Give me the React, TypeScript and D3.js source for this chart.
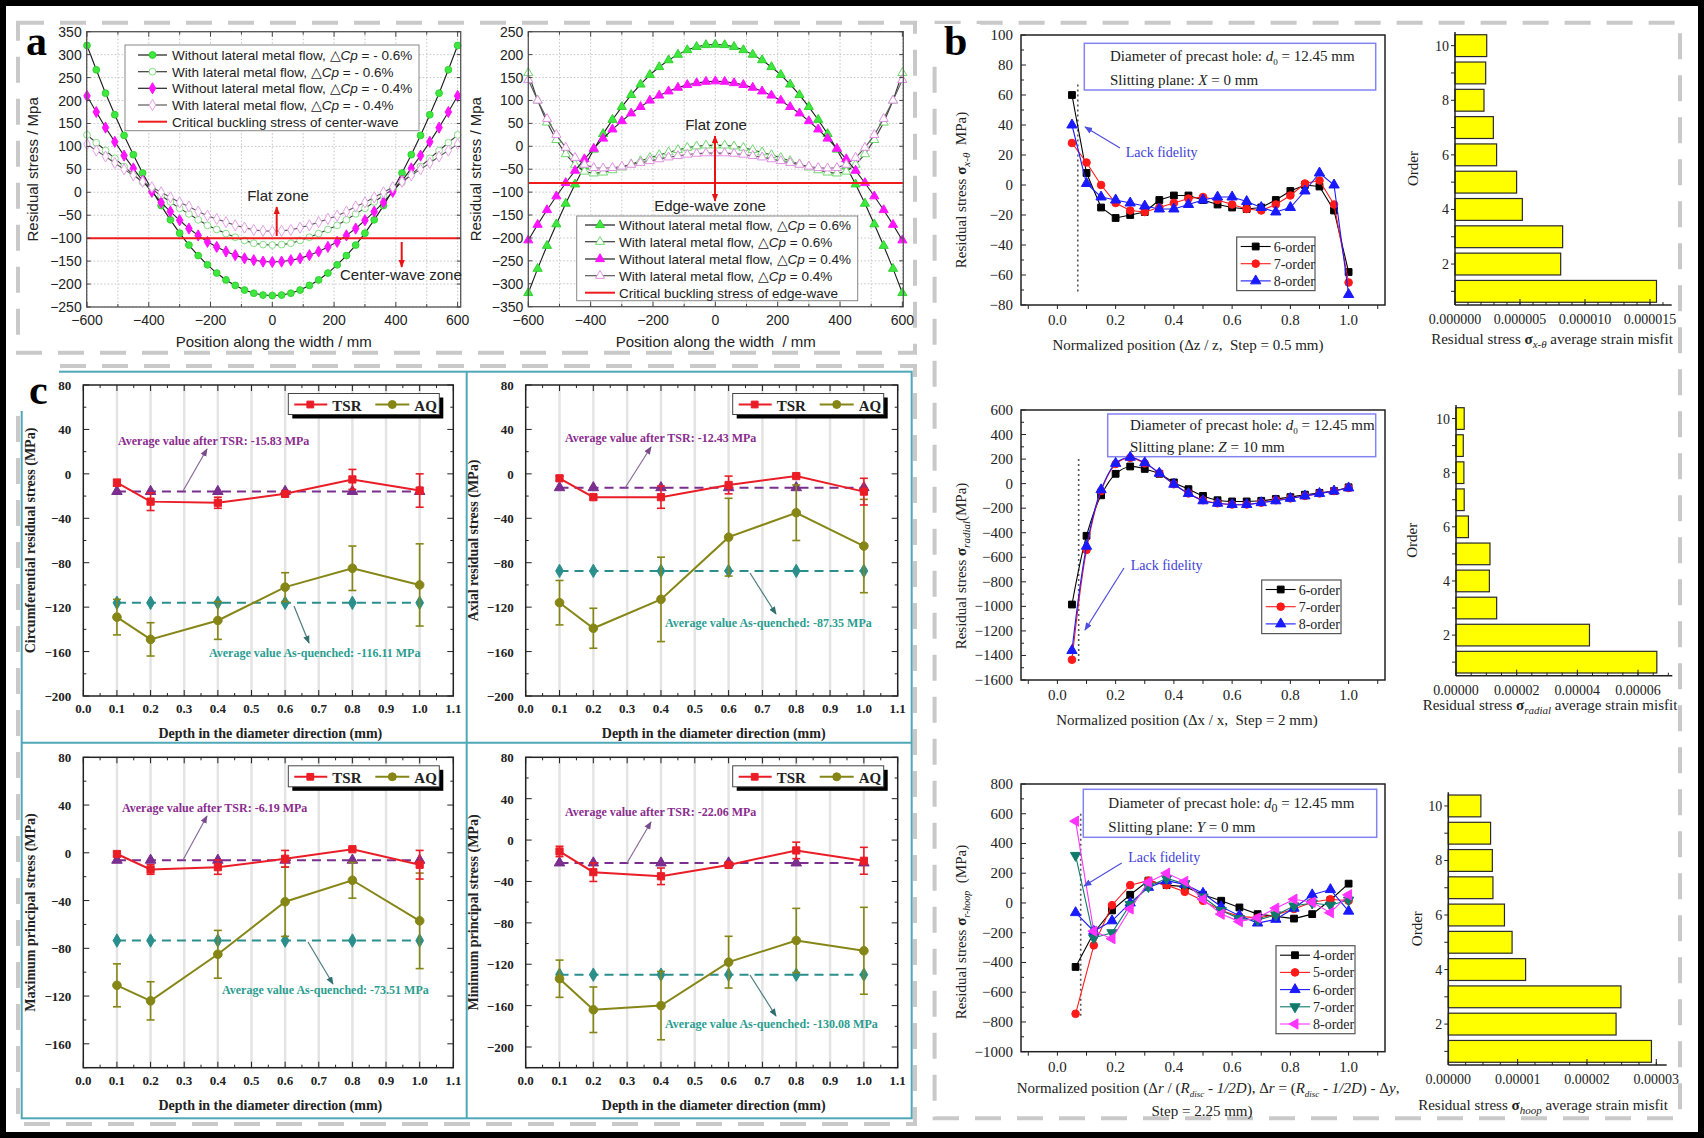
import React from 'react';
import * as d3 from 'd3';

const W = 1704;
const H = 1138;
const SANS = '"Liberation Sans", Arial, Helvetica, sans-serif';
const SERIF = '"Liberation Serif", "Times New Roman", Times, serif';

// ---------- (a) residual stress across the strip width, one point every 30 mm ----------
const widthPos = d3.range(-600, 601, 30);

const centerNoFlow06 = [320,267,216,169,124,82,42,5,-29,-60,-89,-115,-138,-158,-176,-191,-203,-213,-220,-224,-225,-224,-220,-213,-203,-191,-176,-158,-138,-115,-89,-60,-29,5,42,82,124,169,216,267,320];
const centerFlow06 = [125,108,91,74,56,39,22,7,-7,-21,-35,-47,-60,-72,-81,-90,-98,-105,-111,-114,-115,-114,-111,-105,-98,-90,-81,-72,-60,-47,-35,-21,-7,7,22,39,56,74,91,108,125];
const centerNoFlow04 = [210,175,141,110,80,52,25,1,-22,-42,-61,-79,-94,-108,-119,-129,-137,-144,-148,-151,-152,-151,-148,-144,-137,-129,-119,-108,-94,-79,-61,-42,-22,1,25,52,80,110,141,175,210];
const centerFlow04 = [105,91,78,64,50,37,23,11,0,-11,-22,-31,-42,-51,-58,-65,-72,-77,-82,-84,-85,-84,-82,-77,-72,-65,-58,-51,-42,-31,-22,-11,0,11,23,37,50,64,78,91,105];
const edgeNoFlow06 = [-320,-267,-217,-170,-125,-83,-44,-7,27,58,86,112,135,156,173,188,200,210,217,221,222,221,217,210,200,188,173,156,135,112,86,58,27,-7,-44,-83,-125,-170,-217,-267,-320];
const edgeFlow06 = [160,100,52,14,-17,-40,-55,-59,-57,-52,-46,-39,-32,-25,-19,-13,-8,-3,0,2,2,2,0,-3,-8,-13,-19,-25,-32,-39,-46,-52,-57,-59,-55,-40,-17,14,52,100,160];
const edgeNoFlow04 = [-205,-171,-139,-109,-80,-53,-28,-5,17,37,55,72,86,100,111,120,128,134,138,141,142,141,138,134,128,120,111,100,86,72,55,37,17,-5,-28,-53,-80,-109,-139,-171,-205];
const edgeFlow04 = [145,100,60,25,-3,-25,-40,-47,-48,-47,-44,-40,-36,-32,-28,-24,-21,-18,-16,-15,-15,-15,-16,-18,-21,-24,-28,-32,-36,-40,-44,-47,-48,-47,-40,-25,-3,25,60,100,145];
const centerWaveLimit = -100;
const edgeWaveLimit = -80;

// ---------- (b) slitting results and strain misfit per order ----------
const slitPos = [0.05,0.1,0.15,0.2,0.25,0.3,0.35,0.4,0.45,0.5,0.55,0.6,0.65,0.7,0.75,0.8,0.85,0.9,0.95,1.0];
const xTheta6 = [60,8,-15,-22,-20,-18,-10,-7,-7,-10,-13,-15,-16,-15,-10,-4,0,-1,-17,-58];
const xTheta7 = [28,15,0,-12,-17,-18,-15,-12,-9,-8,-10,-13,-16,-17,-13,-7,1,3,-13,-65];
const xTheta8 = [40,1,-8,-10,-12,-14,-16,-16,-13,-10,-8,-8,-11,-15,-18,-15,-4,8,0,-73];
const radial6 = [-985,-425,-95,80,140,120,80,10,-45,-100,-135,-145,-145,-140,-125,-110,-90,-75,-60,-30];
const radial7 = [-1435,-540,-60,160,210,165,85,-5,-80,-135,-160,-170,-170,-155,-135,-120,-100,-80,-60,-35];
const radial8 = [-1360,-510,-50,165,215,170,85,-5,-80,-140,-160,-170,-170,-155,-140,-120,-100,-80,-60,-35];
const hoopPos = [0.0625,0.125,0.1875,0.25,0.3125,0.375,0.4375,0.5,0.5625,0.625,0.6875,0.75,0.8125,0.875,0.9375,1.0];
const hoop4 = [-430,-200,-50,55,150,120,110,55,15,-30,-75,-90,-105,-75,20,130];
const hoop5 = [-745,-285,-15,120,150,120,75,15,-50,-90,-100,-80,-40,5,25,15];
const hoop6 = [-65,-190,-120,0,105,150,125,65,-25,-85,-135,-110,-35,55,90,-55];
const hoop7 = [320,-235,-200,-10,110,165,130,40,-50,-105,-115,-80,-20,0,-15,20];
const hoop8 = [550,-190,-240,-40,140,200,145,25,-75,-125,-100,-35,25,5,-65,55];

const orders = [1,2,3,4,5,6,7,8,9,10];
const misfitXTheta = [0.0000155,0.00000813,0.00000828,0.00000518,0.00000474,0.0000032,0.00000295,0.00000223,0.00000236,0.00000244];
const misfitRadial = [0.0000662,0.000044,0.0000134,0.000011,0.0000112,0.0000041,0.0000027,0.0000026,0.0000024,0.0000027];
const misfitHoop = [0.0000293,0.0000242,0.0000249,0.00001115,0.0000092,0.0000081,0.00000644,0.00000635,0.0000061,0.0000047];

// ---------- (c) stresses vs depth, TSR vs as-quenched ----------
const depth = [0.1,0.2,0.4,0.6,0.8,1.0];
const circTSR = [-8,-25,-26,-18,-5,-15];
const circTSRErr = [3,8,5,2,9,15];
const circAQ = [-129,-149,-132,-102,-85,-100];
const circAQErr = [16,15,17,13,20,37];
const axialTSR = [-4,-21,-21,-10,-2,-16];
const axialTSRErr = [2,2,10,8,1,12];
const axialAQ = [-116,-139,-113,-57,-35,-65];
const axialAQErr = [20,18,38,35,25,42];
const maxTSR = [-1,-14,-12,-5,3,-10];
const maxTSRErr = [2,4,6,7,1,12];
const maxAQ = [-111,-124,-85,-41,-23,-57];
const maxAQErr = [18,16,20,29,15,40];
const minTSR = [-11,-31,-35,-24,-10,-20];
const minTSRErr = [5,9,8,2,8,13];
const minAQ = [-134,-164,-160,-118,-97,-107];
const minAQErr = [18,22,33,25,31,42];

const RED = '#ea1d27';
const OLIVE = '#868616';
const PURPLE = '#7a2e8e';
const TEAL = '#2a8f8c';

const symType: any = { circle: d3.symbolCircle, square: d3.symbolSquare, diamond: d3.symbolDiamond, triangle: d3.symbolTriangle, down: d3.symbolTriangle, left: d3.symbolTriangle };
const symRot: any = { circle: 0, square: 0, diamond: 0, triangle: 0, down: 180, left: -90 };

function Sym({ kind, x, y, size, fill, stroke, sw = 1 }: any) {
    const d = d3.symbol().type(symType[kind]).size(size)() as string;
    return <path d={d} transform={`translate(${x},${y}) rotate(${symRot[kind]})`} fill={fill} stroke={stroke} strokeWidth={sw} />;
}

const dcp = (v: string) => (
    <>
        {'\u25B3'}
        <tspan fontStyle="italic">Cp</tspan>
        {` = ${v}`}
    </>
);

// one of the two width-profile charts in (a)
function WidthPanel(p: any) {
    const x = d3.scaleLinear().domain(p.xDomain).range([p.x0, p.x1]);
    const y = d3.scaleLinear().domain(p.yDomain).range([p.y1, p.y0]);
    const path = d3.line<number>().x((_, i) => x(widthPos[i])).y((v) => y(v));
    const yTicks = d3.range(p.yDomain[0], p.yDomain[1] + 1, 50);
    const xGrid = d3.range(-600, 601, 100);
    const xLabels = d3.range(-600, 601, 200);
    const fmt = d3.format('d');
    const lb = p.legend;
    return (
        <g fontFamily={SANS}>
            <rect x={p.x0} y={p.y0} width={p.x1 - p.x0} height={p.y1 - p.y0} fill="#fff" />
            {xGrid.map((v) => <line key={'gx' + v} x1={x(v)} x2={x(v)} y1={p.y0} y2={p.y1} stroke="#c4c4c4" strokeDasharray="1.5,2" />)}
            {yTicks.map((v) => <line key={'gy' + v} x1={p.x0} x2={p.x1} y1={y(v)} y2={y(v)} stroke="#c4c4c4" strokeDasharray="1.5,2" />)}
            {p.series.map((s: any, k: number) => (
                <g key={'s' + k}>
                    <path d={path(s.values) as string} fill="none" stroke={s.line} strokeWidth={1.1} />
                    {s.values.map((v: number, i: number) => (
                        <Sym key={i} kind={s.kind} x={x(widthPos[i])} y={y(v)} size={36} fill={s.fill} stroke={s.stroke} />
                    ))}
                </g>
            ))}
            <line x1={p.x0} x2={p.x1} y1={y(p.limit)} y2={y(p.limit)} stroke="#f01c1c" strokeWidth={2} />
            <rect x={p.x0} y={p.y0} width={p.x1 - p.x0} height={p.y1 - p.y0} fill="none" stroke="#555" strokeWidth={1.3} />
            {xGrid.map((v) => (
                <g key={'tx' + v} stroke="#444">
                    <line x1={x(v)} x2={x(v)} y1={p.y1} y2={p.y1 - (v % 200 === 0 ? 5 : 3)} />
                    <line x1={x(v)} x2={x(v)} y1={p.y0} y2={p.y0 + (v % 200 === 0 ? 5 : 3)} />
                </g>
            ))}
            {yTicks.map((v) => (
                <g key={'ty' + v} stroke="#444">
                    <line x1={p.x0} x2={p.x0 + 4} y1={y(v)} y2={y(v)} />
                    <line x1={p.x1} x2={p.x1 - 4} y1={y(v)} y2={y(v)} />
                </g>
            ))}
            {yTicks.map((v) => (
                <text key={'ly' + v} x={p.x0 - 5} y={y(v) + 5} fontSize={14} textAnchor="end" fill="#222">{fmt(v)}</text>
            ))}
            {xLabels.map((v) => (
                <text key={'lx' + v} x={x(v)} y={p.y1 + 18} fontSize={14} textAnchor="middle" fill="#222">{fmt(v)}</text>
            ))}
            <text transform={`translate(${p.yTitleX},${(p.y0 + p.y1) / 2}) rotate(-90)`} fontSize={15} textAnchor="middle" fill="#222">Residual stress / Mpa</text>
            <text x={(p.x0 + p.x1) / 2} y={347} fontSize={15} textAnchor="middle" fill="#222">{p.xTitle}</text>
            <rect x={lb.x0} y={lb.y0} width={lb.x1 - lb.x0} height={lb.y1 - lb.y0} fill="#fff" stroke="#888" strokeWidth={1} />
            {p.labels.map((lab: any, k: number) => {
                const ly = lb.rows[k];
                const s = p.series[k];
                return (
                    <g key={'lg' + k}>
                        {s ? (
                            <>
                                <line x1={lb.lx0} x2={lb.lx1} y1={ly} y2={ly} stroke={s.line} strokeWidth={1.2} />
                                <Sym kind={s.kind} x={(lb.lx0 + lb.lx1) / 2} y={ly} size={36} fill={s.fill} stroke={s.stroke} />
                            </>
                        ) : (
                            <line x1={lb.lx0} x2={lb.lx1} y1={ly} y2={ly} stroke="#f01c1c" strokeWidth={2} />
                        )}
                        <text x={lb.tx} y={ly + 5} fontSize={13.5} fill="#222">{lab}</text>
                    </g>
                );
            })}
            {p.children}
        </g>
    );
}

// line chart of one slitting measurement in (b)
const slitX = d3.scaleLinear().domain([-0.125, 1.125]).range([1021, 1385]);

function SlitPanel(p: any) {
    const x0 = 1021, x1 = 1385;
    const y = d3.scaleLinear().domain(p.yDomain).range([p.y1, p.y0]);
    const line = d3.line<number>().x((_, i) => slitX(p.xs[i])).y((v) => y(v));
    if (p.smooth) line.curve(d3.curveCatmullRom.alpha(0.5));
    const yMajor = d3.range(p.yDomain[0], p.yDomain[1] + 1, p.yStep);
    const yMinor = d3.range(p.yDomain[0], p.yDomain[1] + 1, p.yStep / 2);
    const xMinor = d3.range(-1, 12).map((i) => i / 10);
    const xMajor = [0, 0.2, 0.4, 0.6, 0.8, 1.0];
    const fmt = d3.format('d');
    const lg = p.legend;
    return (
        <g fontFamily={SERIF} fill="#222">
            <rect x={p.note.x0} y={p.note.y0} width={p.note.x1 - p.note.x0} height={p.note.y1 - p.note.y0} fill="#fff" stroke="#8383f2" strokeWidth={1.5} />
            {p.noteLines.map((t: any, i: number) => (
                <text key={'n' + i} x={p.note.tx} y={p.note.ty[i]} fontSize={15}>{t}</text>
            ))}
            <line x1={slitX(p.dotted.x)} x2={slitX(p.dotted.x)} y1={y(p.dotted.top)} y2={y(p.dotted.bottom)} stroke="#555" strokeWidth={1.6} strokeDasharray="2,3" />
            {p.series.map((s: any, k: number) => (
                <g key={'s' + k}>
                    <path d={line(s.values) as string} fill="none" stroke={s.color} strokeWidth={1.1} />
                    {s.values.map((v: number, i: number) => (
                        <Sym key={i} kind={s.kind} x={slitX(p.xs[i])} y={y(v)} size={46} fill={s.color} stroke={s.color} />
                    ))}
                </g>
            ))}
            <rect x={x0} y={p.y0} width={x1 - x0} height={p.y1 - p.y0} fill="none" stroke="#222" strokeWidth={1.5} />
            {yMinor.map((v) => (
                <line key={'ym' + v} x1={x0} x2={x0 + (v % p.yStep === 0 ? 5 : 3)} y1={y(v)} y2={y(v)} stroke="#222" />
            ))}
            {xMinor.map((v) => (
                <line key={'xm' + v} x1={slitX(v)} x2={slitX(v)} y1={p.y1} y2={p.y1 + 4} stroke="#222" />
            ))}
            {yMajor.map((v) => (
                <text key={'yl' + v} x={x0 - 8} y={y(v) + 5} fontSize={15} textAnchor="end">{fmt(v)}</text>
            ))}
            {xMajor.map((v) => (
                <text key={'xl' + v} x={slitX(v)} y={p.y1 + 20} fontSize={15} textAnchor="middle">{v.toFixed(1)}</text>
            ))}
            <line x1={p.lack.ax} y1={p.lack.ay} x2={p.lack.bx} y2={p.lack.by} stroke="#4d4de0" strokeWidth={1.2} markerEnd="url(#ah-blue)" />
            <text x={p.lack.tx} y={p.lack.ty} fontSize={14} fill="#4040d8">Lack fidelity</text>
            <rect x={lg.x} y={lg.y} width={lg.w} height={17.2 * p.series.length + 2} fill="#fff" stroke="#555" strokeWidth={1.2} />
            {p.series.map((s: any, k: number) => {
                const ly = lg.y + 9.5 + k * 17.2;
                return (
                    <g key={'lg' + k}>
                        <line x1={lg.x + 4} x2={lg.x + 34} y1={ly} y2={ly} stroke={s.color} strokeWidth={1.1} />
                        <Sym kind={s.kind} x={lg.x + 19} y={ly} size={46} fill={s.color} stroke={s.color} />
                        <text x={lg.x + 37} y={ly + 5} fontSize={14}>{s.label}</text>
                    </g>
                );
            })}
            <text transform={`translate(966,${p.yLabelY}) rotate(-90)`} fontSize={15} textAnchor="middle">{p.yLabel}</text>
            {p.xLabel}
        </g>
    );
}

// horizontal yellow bars of strain misfit per order in (b)
function MisfitBars(p: any) {
    const x = d3.scaleLinear().domain([0, p.max]).range([p.left, p.right]);
    const y = d3.scaleBand<number>().domain([...orders].reverse()).range([p.top, p.bottom]).paddingInner(0.2).paddingOuter(0.1);
    const fmt = d3.format(p.fmt);
    const minor = d3.range(0, Math.floor(p.max / p.minor + 1e-6) + 1).map((i) => i * p.minor);
    return (
        <g fontFamily={SERIF} fill="#222">
            {orders.map((o, i) => (
                <rect key={'b' + o} x={p.left} y={y(o)} width={x(p.values[i]) - p.left} height={y.bandwidth()} fill="#ffff00" stroke="#2a2a2a" strokeWidth={1.2} />
            ))}
            <line x1={p.left} x2={p.left} y1={p.top} y2={p.bottom} stroke="#222" strokeWidth={1.5} />
            <line x1={p.left} x2={p.right} y1={p.bottom} y2={p.bottom} stroke="#222" strokeWidth={1.5} />
            {minor.map((v, i) => (
                <line key={'xm' + i} x1={x(v)} x2={x(v)} y1={p.bottom} y2={p.bottom - 3} stroke="#222" />
            ))}
            {p.ticks.map((v: number) => (
                <g key={'xt' + v}>
                    <line x1={x(v)} x2={x(v)} y1={p.bottom} y2={p.bottom - 6} stroke="#222" />
                    <text x={x(v)} y={p.bottom + 19} fontSize={14} textAnchor="middle">{fmt(v)}</text>
                </g>
            ))}
            {orders.map((o) => (
                <line key={'yt' + o} x1={p.left} x2={p.left - 4} y1={(y(o) as number) + y.bandwidth() / 2} y2={(y(o) as number) + y.bandwidth() / 2} stroke="#222" />
            ))}
            {orders.filter((o) => o % 2 === 0).map((o) => (
                <text key={'yl' + o} x={p.left - 6} y={(y(o) as number) + y.bandwidth() / 2 + 5} fontSize={14} textAnchor="end">{o}</text>
            ))}
            <text transform={`translate(${p.orderX},${(p.top + p.bottom) / 2}) rotate(-90)`} fontSize={15} textAnchor="middle">Order</text>
            <text x={p.labelX} y={p.labelY} fontSize={15} textAnchor="middle">
                Residual stress <tspan fontWeight="bold">{'\u03C3'}</tspan>
                <tspan fontStyle="italic" fontSize={11} dy={4}>{p.sub}</tspan>
                <tspan dy={-4}> average strain misfit</tspan>
            </text>
        </g>
    );
}

// one of the four depth-profile charts in (c)
function DepthPanel(p: any) {
    const x = d3.scaleLinear().domain([0, 1.1]).range([p.x0, p.x1]);
    const y = d3.scaleLinear().domain(p.yDomain).range([p.y1, p.y0]);
    const line = d3.line<number>().x((_, i) => x(depth[i])).y((v) => y(v));
    const xTicks = d3.range(0, 12).map((i) => i / 10);
    const xMinor = d3.range(0, 23).map((i) => i / 20);
    const yMajor = d3.range(Math.ceil(p.yDomain[0] / 40) * 40, p.yDomain[1] + 1, 40);
    const yMinor = d3.range(Math.ceil(p.yDomain[0] / 20) * 20, p.yDomain[1] + 1, 20);
    const fmt = d3.format('d');
    const bx = p.x1 - 165;
    const by = p.y0 + 8.5;
    const errBar = (xv: number, v: number, e: number, color: string, key: string) => (
        <g key={key} stroke={color} strokeWidth={1.6}>
            <line x1={x(xv)} x2={x(xv)} y1={y(v - e)} y2={y(v + e)} />
            <line x1={x(xv) - 4} x2={x(xv) + 4} y1={y(v - e)} y2={y(v - e)} />
            <line x1={x(xv) - 4} x2={x(xv) + 4} y1={y(v + e)} y2={y(v + e)} />
        </g>
    );
    return (
        <g fontFamily={SERIF} fontWeight="bold" fill="#222">
            <rect x={p.x0} y={p.y0} width={p.x1 - p.x0} height={p.y1 - p.y0} fill="#fff" />
            {xTicks.slice(1, 11).map((v) => (
                <line key={'g' + v} x1={x(v)} x2={x(v)} y1={p.y0} y2={p.y1} stroke="#e4e4e4" strokeWidth={2.5} />
            ))}
            <line x1={x(0.1)} x2={x(1.0)} y1={y(p.tsrAvg)} y2={y(p.tsrAvg)} stroke={PURPLE} strokeWidth={2} strokeDasharray="9,6" />
            <line x1={x(0.1)} x2={x(1.0)} y1={y(p.aqAvg)} y2={y(p.aqAvg)} stroke={TEAL} strokeWidth={2} strokeDasharray="9,6" />
            {depth.map((d) => <Sym key={'pa' + d} kind="triangle" x={x(d)} y={y(p.tsrAvg)} size={48} fill={PURPLE} stroke={PURPLE} />)}
            {depth.map((d) => <Sym key={'ta' + d} kind="diamond" x={x(d)} y={y(p.aqAvg)} size={52} fill={TEAL} stroke={TEAL} />)}
            {depth.map((d, i) => errBar(d, p.aq[i], p.aqErr[i], OLIVE, 'ea' + i))}
            {depth.map((d, i) => errBar(d, p.tsr[i], p.tsrErr[i], RED, 'et' + i))}
            <path d={line(p.aq) as string} fill="none" stroke={OLIVE} strokeWidth={2} />
            <path d={line(p.tsr) as string} fill="none" stroke={RED} strokeWidth={2} />
            {depth.map((d, i) => <Sym key={'ma' + i} kind="circle" x={x(d)} y={y(p.aq[i])} size={58} fill={OLIVE} stroke={OLIVE} />)}
            {depth.map((d, i) => <Sym key={'mt' + i} kind="square" x={x(d)} y={y(p.tsr[i])} size={52} fill={RED} stroke={RED} />)}
            <rect x={p.x0} y={p.y0} width={p.x1 - p.x0} height={p.y1 - p.y0} fill="none" stroke="#222" strokeWidth={1.5} />
            {xMinor.map((v, i) => (
                <g key={'xt' + i} stroke="#222">
                    <line x1={x(v)} x2={x(v)} y1={p.y1} y2={p.y1 - (i % 2 === 0 ? 6 : 3)} />
                    <line x1={x(v)} x2={x(v)} y1={p.y0} y2={p.y0 + (i % 2 === 0 ? 6 : 3)} />
                </g>
            ))}
            {yMinor.map((v) => (
                <g key={'yt' + v} stroke="#222">
                    <line x1={p.x0} x2={p.x0 + (v % 40 === 0 ? 6 : 3)} y1={y(v)} y2={y(v)} />
                    <line x1={p.x1} x2={p.x1 - (v % 40 === 0 ? 6 : 3)} y1={y(v)} y2={y(v)} />
                </g>
            ))}
            {yMajor.map((v) => (
                <text key={'yl' + v} x={p.x0 - 12} y={y(v) + 5} fontSize={13} textAnchor="end">{fmt(v)}</text>
            ))}
            {xTicks.map((v) => (
                <text key={'xl' + v} x={x(v)} y={p.y1 + 17} fontSize={13} textAnchor="middle">{v.toFixed(1)}</text>
            ))}
            <text transform={`translate(${p.x0 - 48},${(p.y0 + p.y1) / 2}) rotate(-90)`} fontSize={14} textAnchor="middle">{p.yLabel}</text>
            <text x={(p.x0 + p.x1) / 2 + 2} y={p.y1 + 42} fontSize={14} textAnchor="middle">Depth in the diameter direction (mm)</text>
            <rect x={bx + 4} y={by + 4} width={151} height={21} fill="#000" />
            <rect x={bx} y={by} width={151} height={21} fill="#fff" stroke="#444" strokeWidth={1} />
            <line x1={bx + 6} x2={bx + 39} y1={by + 11} y2={by + 11} stroke={RED} strokeWidth={2} />
            <Sym kind="square" x={bx + 22} y={by + 11} size={46} fill={RED} stroke={RED} />
            <text x={bx + 44} y={by + 17} fontSize={15}>TSR</text>
            <line x1={bx + 87} x2={bx + 121} y1={by + 11} y2={by + 11} stroke={OLIVE} strokeWidth={2} />
            <Sym kind="circle" x={bx + 104} y={by + 11} size={50} fill={OLIVE} stroke={OLIVE} />
            <text x={bx + 126} y={by + 17} fontSize={15}>AQ</text>
            <line x1={p.tsrArrow[0]} y1={p.tsrArrow[1]} x2={p.tsrArrow[2]} y2={p.tsrArrow[3]} stroke="#8a6a98" strokeWidth={1.2} markerEnd="url(#ah-purple)" />
            <line x1={p.aqArrow[0]} y1={p.aqArrow[1]} x2={p.aqArrow[2]} y2={p.aqArrow[3]} stroke="#4c7c80" strokeWidth={1.2} markerEnd="url(#ah-teal)" />
            <text x={p.tsrText[0]} y={p.tsrText[1]} fontSize={12} fill="#8a2c8e">{`Average value after TSR: ${p.tsrAvg} MPa`}</text>
            <text x={p.aqText[0]} y={p.aqText[1]} fontSize={12} fill="#2a9d90">{`Average value As-quenched: ${p.aqAvg} MPa`}</text>
        </g>
    );
}

const centerSeries = [
    { values: centerNoFlow06, kind: 'circle', fill: '#3fe83f', stroke: '#2fd12f', line: '#1a1a1a' },
    { values: centerFlow06, kind: 'circle', fill: '#fff', stroke: '#82df82', line: '#3a3a3a' },
    { values: centerNoFlow04, kind: 'diamond', fill: '#ff14ff', stroke: '#ff14ff', line: '#222' },
    { values: centerFlow04, kind: 'diamond', fill: '#fff', stroke: '#e7a0e7', line: '#5a5a5a' },
];
const edgeSeries = [
    { values: edgeNoFlow06, kind: 'triangle', fill: '#3fe83f', stroke: '#2fd12f', line: '#1a1a1a' },
    { values: edgeFlow06, kind: 'triangle', fill: '#fff', stroke: '#6fd86f', line: '#3a3a3a' },
    { values: edgeNoFlow04, kind: 'triangle', fill: '#ff14ff', stroke: '#ff14ff', line: '#222' },
    { values: edgeFlow04, kind: 'triangle', fill: '#fff', stroke: '#e28fe2', line: '#5a5a5a' },
];
const centerLabels = [
    <>Without lateral metal flow, {dcp('- 0.6%')}</>,
    <>With lateral metal flow, {dcp('- 0.6%')}</>,
    <>Without lateral metal flow, {dcp('- 0.4%')}</>,
    <>With lateral metal flow, {dcp('- 0.4%')}</>,
    <>Critical buckling stress of center-wave</>,
];
const edgeLabels = [
    <>Without lateral metal flow, {dcp('0.6%')}</>,
    <>With lateral metal flow, {dcp('0.6%')}</>,
    <>Without lateral metal flow, {dcp('0.4%')}</>,
    <>With lateral metal flow, {dcp('0.4%')}</>,
    <>Critical buckling stress of edge-wave</>,
];

const noteLine1 = (sub: number) => (
    <>
        Diameter of precast hole: <tspan fontStyle="italic">d</tspan>
        <tspan fontSize={sub} dy={4}>0</tspan>
        <tspan dy={-4}> = 12.45 mm</tspan>
    </>
);

const depthPanels = [
    { x0: 83.3, x1: 453.3, y0: 385, y1: 696, yDomain: [-200, 80], yLabel: 'Circumferential residual stress (MPa)', tsr: circTSR, tsrErr: circTSRErr, aq: circAQ, aqErr: circAQErr, tsrAvg: -15.83, aqAvg: -116.11, tsrText: [118, 445], aqText: [209, 657], tsrArrow: [183, 491, 207, 449], aqArrow: [294, 606, 309, 643] },
    { x0: 525.7, x1: 897.7, y0: 385, y1: 696, yDomain: [-200, 80], yLabel: 'Axial residual stress (MPa)', tsr: axialTSR, tsrErr: axialTSRErr, aq: axialAQ, aqErr: axialAQErr, tsrAvg: -12.43, aqAvg: -87.35, tsrText: [565, 442], aqText: [665, 627], tsrArrow: [625, 488, 651, 447], aqArrow: [750, 573, 776, 614] },
    { x0: 83.3, x1: 453.3, y0: 757.3, y1: 1067.7, yDomain: [-180, 80], yLabel: 'Maximum principal stress (MPa)', tsr: maxTSR, tsrErr: maxTSRErr, aq: maxAQ, aqErr: maxAQErr, tsrAvg: -6.19, aqAvg: -73.51, tsrText: [122, 812], aqText: [222, 994], tsrArrow: [183, 860, 207, 816], aqArrow: [308, 942, 333, 984] },
    { x0: 525.7, x1: 897.7, y0: 757.3, y1: 1067.7, yDomain: [-220, 80], yLabel: 'Minimum principal stress (MPa)', tsr: minTSR, tsrErr: minTSRErr, aq: minAQ, aqErr: minAQErr, tsrAvg: -22.06, aqAvg: -130.08, tsrText: [565, 816], aqText: [665, 1028], tsrArrow: [627, 863, 651, 822], aqArrow: [750, 975, 776, 1016] },
];

export default function App() {
    const arrowHead = (id: string, color: string) => (
        <marker id={id} viewBox="0 0 10 10" refX="9" refY="5" markerWidth="8" markerHeight="8" markerUnits="userSpaceOnUse" orient="auto">
            <path d="M0,1L10,5L0,9z" fill={color} />
        </marker>
    );
    return (
        <svg width={W} height={H} viewBox={`0 0 ${W} ${H}`} style={{ position: 'absolute', left: 0, top: 0 }}>
            <defs>
                {arrowHead('ah-red', '#e81414')}
                {arrowHead('ah-blue', '#4d4de0')}
                {arrowHead('ah-purple', '#7a4a8a')}
                {arrowHead('ah-teal', '#2f6f70')}
            </defs>
            <rect width={W} height={H} fill="#fff" />

            {/* dashed panel outlines */}
            <g fill="none" stroke="#c9c9c9" strokeWidth={4} strokeDasharray="26,16">
                <rect x={18} y={22.7} width={897} height={330} />
                <rect x={934.6} y={22.7} width={745.4} height={1095.6} />
                <rect x={18} y={366} width={897} height={758} />
            </g>
            <g fill="none" stroke="#4fa8b8" strokeWidth={2}>
                <rect x={21.7} y={371.7} width={890} height={746.6} />
                <line x1={466.7} x2={466.7} y1={371.7} y2={1118.3} />
                <line x1={21.7} x2={911.7} y1={742.7} y2={742.7} />
            </g>
            {/* white corner behind the "c" letter */}
            <rect x={14} y={364} width={45} height={47} fill="#fff" />

            {/* (a) */}
            <WidthPanel
                x0={86.7} x1={460.7} y0={31.7} y1={307} xDomain={[-601, 610]} yDomain={[-250, 350]}
                limit={centerWaveLimit} series={centerSeries} labels={centerLabels} yTitleX={38}
                xTitle="Position along the width / mm"
                legend={{ x0: 125, y0: 45, x1: 419, y1: 130.7, rows: [55, 71.7, 88.3, 105, 121.7], lx0: 138, lx1: 167, tx: 172 }}
            >
                <text x={278} y={201} fontSize={15} textAnchor="middle" fill="#222">Flat zone</text>
                <line x1={276.7} x2={276.7} y1={236} y2={207} stroke="#e81414" strokeWidth={2} markerEnd="url(#ah-red)" />
                <line x1={401.7} x2={401.7} y1={242} y2={267} stroke="#e81414" strokeWidth={2} markerEnd="url(#ah-red)" />
                <text x={340} y={280} fontSize={15} fill="#222">Center-wave zone</text>
            </WidthPanel>
            <WidthPanel
                x0={528.3} x1={903.3} y0={31.7} y1={306.7} xDomain={[-600, 603]} yDomain={[-350, 250]}
                limit={edgeWaveLimit} series={edgeSeries} labels={edgeLabels} yTitleX={481}
                xTitle={'Position along the width \u00a0/ mm'}
                legend={{ x0: 576.7, y0: 216, x1: 857.7, y1: 300.7, rows: [225, 241.7, 259, 275.7, 292.7], lx0: 585, lx1: 615, tx: 619 }}
            >
                <text x={716} y={130} fontSize={15} textAnchor="middle" fill="#222">Flat zone</text>
                <line x1={715} x2={715} y1={183} y2={136} stroke="#e81414" strokeWidth={2} markerEnd="url(#ah-red)" />
                <line x1={715} x2={715} y1={183} y2={201} stroke="#e81414" strokeWidth={2} markerEnd="url(#ah-red)" />
                <text x={710} y={211} fontSize={15} textAnchor="middle" fill="#222">Edge-wave zone</text>
            </WidthPanel>

            {/* (b) slitting line charts */}
            <SlitPanel
                y0={35} y1={305} yDomain={[-80, 100]} yStep={20} xs={slitPos}
                series={[
                    { values: xTheta6, kind: 'square', color: '#000', label: '6-order' },
                    { values: xTheta7, kind: 'circle', color: '#ff1a1a', label: '7-order' },
                    { values: xTheta8, kind: 'triangle', color: '#1a1aff', label: '8-order' },
                ]}
                dotted={{ x: 0.07, top: 67, bottom: -72 }}
                note={{ x0: 1084.3, y0: 43.3, x1: 1375.7, y1: 90, tx: 1110, ty: [61, 84.7] }}
                noteLines={[noteLine1(9), <>Slitting plane: <tspan fontStyle="italic">X</tspan> = 0 mm</>]}
                lack={{ ax: 1120, ay: 148, bx: 1085, by: 127, tx: 1125.7, ty: 157 }}
                legend={{ x: 1236.7, y: 237, w: 78.3 }}
                yLabelY={190}
                yLabel={<>Residual stress <tspan fontWeight="bold">{'\u03C3'}</tspan><tspan fontStyle="italic" fontSize={11} dy={4}>{'x-\u03B8'}</tspan><tspan dy={-4}>{'\u00a0\u00a0MPa)'}</tspan></>}
                xLabel={<text x={1188} y={350} fontSize={15} textAnchor="middle">{'Normalized position (\u0394z / z,\u00a0\u00a0Step = 0.5 mm)'}</text>}
            />
            <SlitPanel
                y0={410} y1={680} yDomain={[-1600, 600]} yStep={200} xs={slitPos} smooth
                series={[
                    { values: radial6, kind: 'square', color: '#000', label: '6-order' },
                    { values: radial7, kind: 'circle', color: '#ff1a1a', label: '7-order' },
                    { values: radial8, kind: 'triangle', color: '#1a1aff', label: '8-order' },
                ]}
                dotted={{ x: 0.073, top: 200, bottom: -1470 }}
                note={{ x0: 1107.7, y0: 414, x1: 1375.7, y1: 456.7, tx: 1130, ty: [430, 452] }}
                noteLines={[noteLine1(9), <>Slitting plane: <tspan fontStyle="italic">Z</tspan> = 10 mm</>]}
                lack={{ ax: 1124, ay: 568, bx: 1085, by: 630, tx: 1130.7, ty: 570 }}
                legend={{ x: 1261.7, y: 580, w: 79.3 }}
                yLabelY={566}
                yLabel={<>Residual stress <tspan fontWeight="bold">{'\u03C3'}</tspan><tspan fontStyle="italic" fontSize={11} dy={4}>radial</tspan><tspan dy={-4}>(MPa)</tspan></>}
                xLabel={<text x={1187} y={725} fontSize={15} textAnchor="middle">{'Normalized position (\u0394x / x,\u00a0\u00a0Step = 2 mm)'}</text>}
            />
            <SlitPanel
                y0={784} y1={1051.7} yDomain={[-1000, 800]} yStep={200} xs={hoopPos}
                series={[
                    { values: hoop4, kind: 'square', color: '#000', label: '4-order' },
                    { values: hoop5, kind: 'circle', color: '#ff1a1a', label: '5-order' },
                    { values: hoop6, kind: 'triangle', color: '#1a1aff', label: '6-order' },
                    { values: hoop7, kind: 'down', color: '#0f7a6c', label: '7-order' },
                    { values: hoop8, kind: 'left', color: '#ff33ff', label: '8-order' },
                ]}
                dotted={{ x: 0.08, top: 600, bottom: -770 }}
                note={{ x0: 1083.3, y0: 789.3, x1: 1376.7, y1: 837.3, tx: 1108.3, ty: [808, 831.7] }}
                noteLines={[noteLine1(12), <>Slitting plane: <tspan fontStyle="italic">Y</tspan> = 0 mm</>]}
                lack={{ ax: 1121.7, ay: 863, bx: 1084, by: 886, tx: 1128.3, ty: 862 }}
                legend={{ x: 1276, y: 945.7, w: 79 }}
                yLabelY={932}
                yLabel={<>Residual stress <tspan fontWeight="bold">{'\u03C3'}</tspan><tspan fontStyle="italic" fontSize={10} dy={4}>r-hoop</tspan><tspan dy={-4}>{'\u00a0\u00a0(MPa)'}</tspan></>}
                xLabel={
                    <>
                        <text x={1016.7} y={1093} fontSize={15}>
                            {'Normalized position (\u0394'}<tspan fontStyle="italic">r</tspan>{' / ('}<tspan fontStyle="italic">R</tspan>
                            <tspan fontStyle="italic" fontSize={9} dy={4}>disc</tspan><tspan dy={-4}>{' - '}</tspan><tspan fontStyle="italic">1/2D</tspan>{'), \u0394'}<tspan fontStyle="italic">r</tspan>{' = ('}<tspan fontStyle="italic">R</tspan>
                            <tspan fontStyle="italic" fontSize={9} dy={4}>disc</tspan><tspan dy={-4}>{' - '}</tspan><tspan fontStyle="italic">1/2D</tspan>{') - \u0394'}<tspan fontStyle="italic">y</tspan>{','}
                        </text>
                        <text x={1202} y={1116} fontSize={15} textAnchor="middle">Step = 2.25 mm)</text>
                    </>
                }
            />

            {/* (b) misfit bars */}
            <MisfitBars left={1455} right={1671.7} top={32} bottom={305} max={0.00001667} values={misfitXTheta} ticks={[0, 0.000005, 0.00001, 0.000015]} minor={0.000001} fmt=".6f" orderX={1418} labelX={1552} labelY={344} sub={'x-\u03B8'} />
            <MisfitBars left={1456} right={1672.3} top={405} bottom={675.7} max={0.0000713} values={misfitRadial} ticks={[0, 0.00002, 0.00004, 0.00006]} minor={0.000005} fmt=".5f" orderX={1417} labelX={1550} labelY={710} sub="radial" />
            <MisfitBars left={1448.3} right={1666.7} top={792.3} bottom={1065} max={0.0000315} values={misfitHoop} ticks={[0, 0.00001, 0.00002, 0.00003]} minor={0.0000025} fmt=".5f" orderX={1422} labelX={1543} labelY={1110} sub="hoop" />

            {/* (c) */}
            {depthPanels.map((dp, i) => <DepthPanel key={'c' + i} {...dp} />)}

            {/* panel letters */}
            <g fontFamily={SERIF} fontWeight="bold" fill="#000" fontSize={42}>
                <text x={26} y={55}>a</text>
                <rect x={930} y={24} width={50} height={38} fill="#fff" />
                <text x={944} y={55}>b</text>
                <text x={29} y={404}>c</text>
            </g>

            <rect x={3} y={3} width={W - 6} height={H - 6} fill="none" stroke="#000" strokeWidth={6} />
        </svg>
    );
}
